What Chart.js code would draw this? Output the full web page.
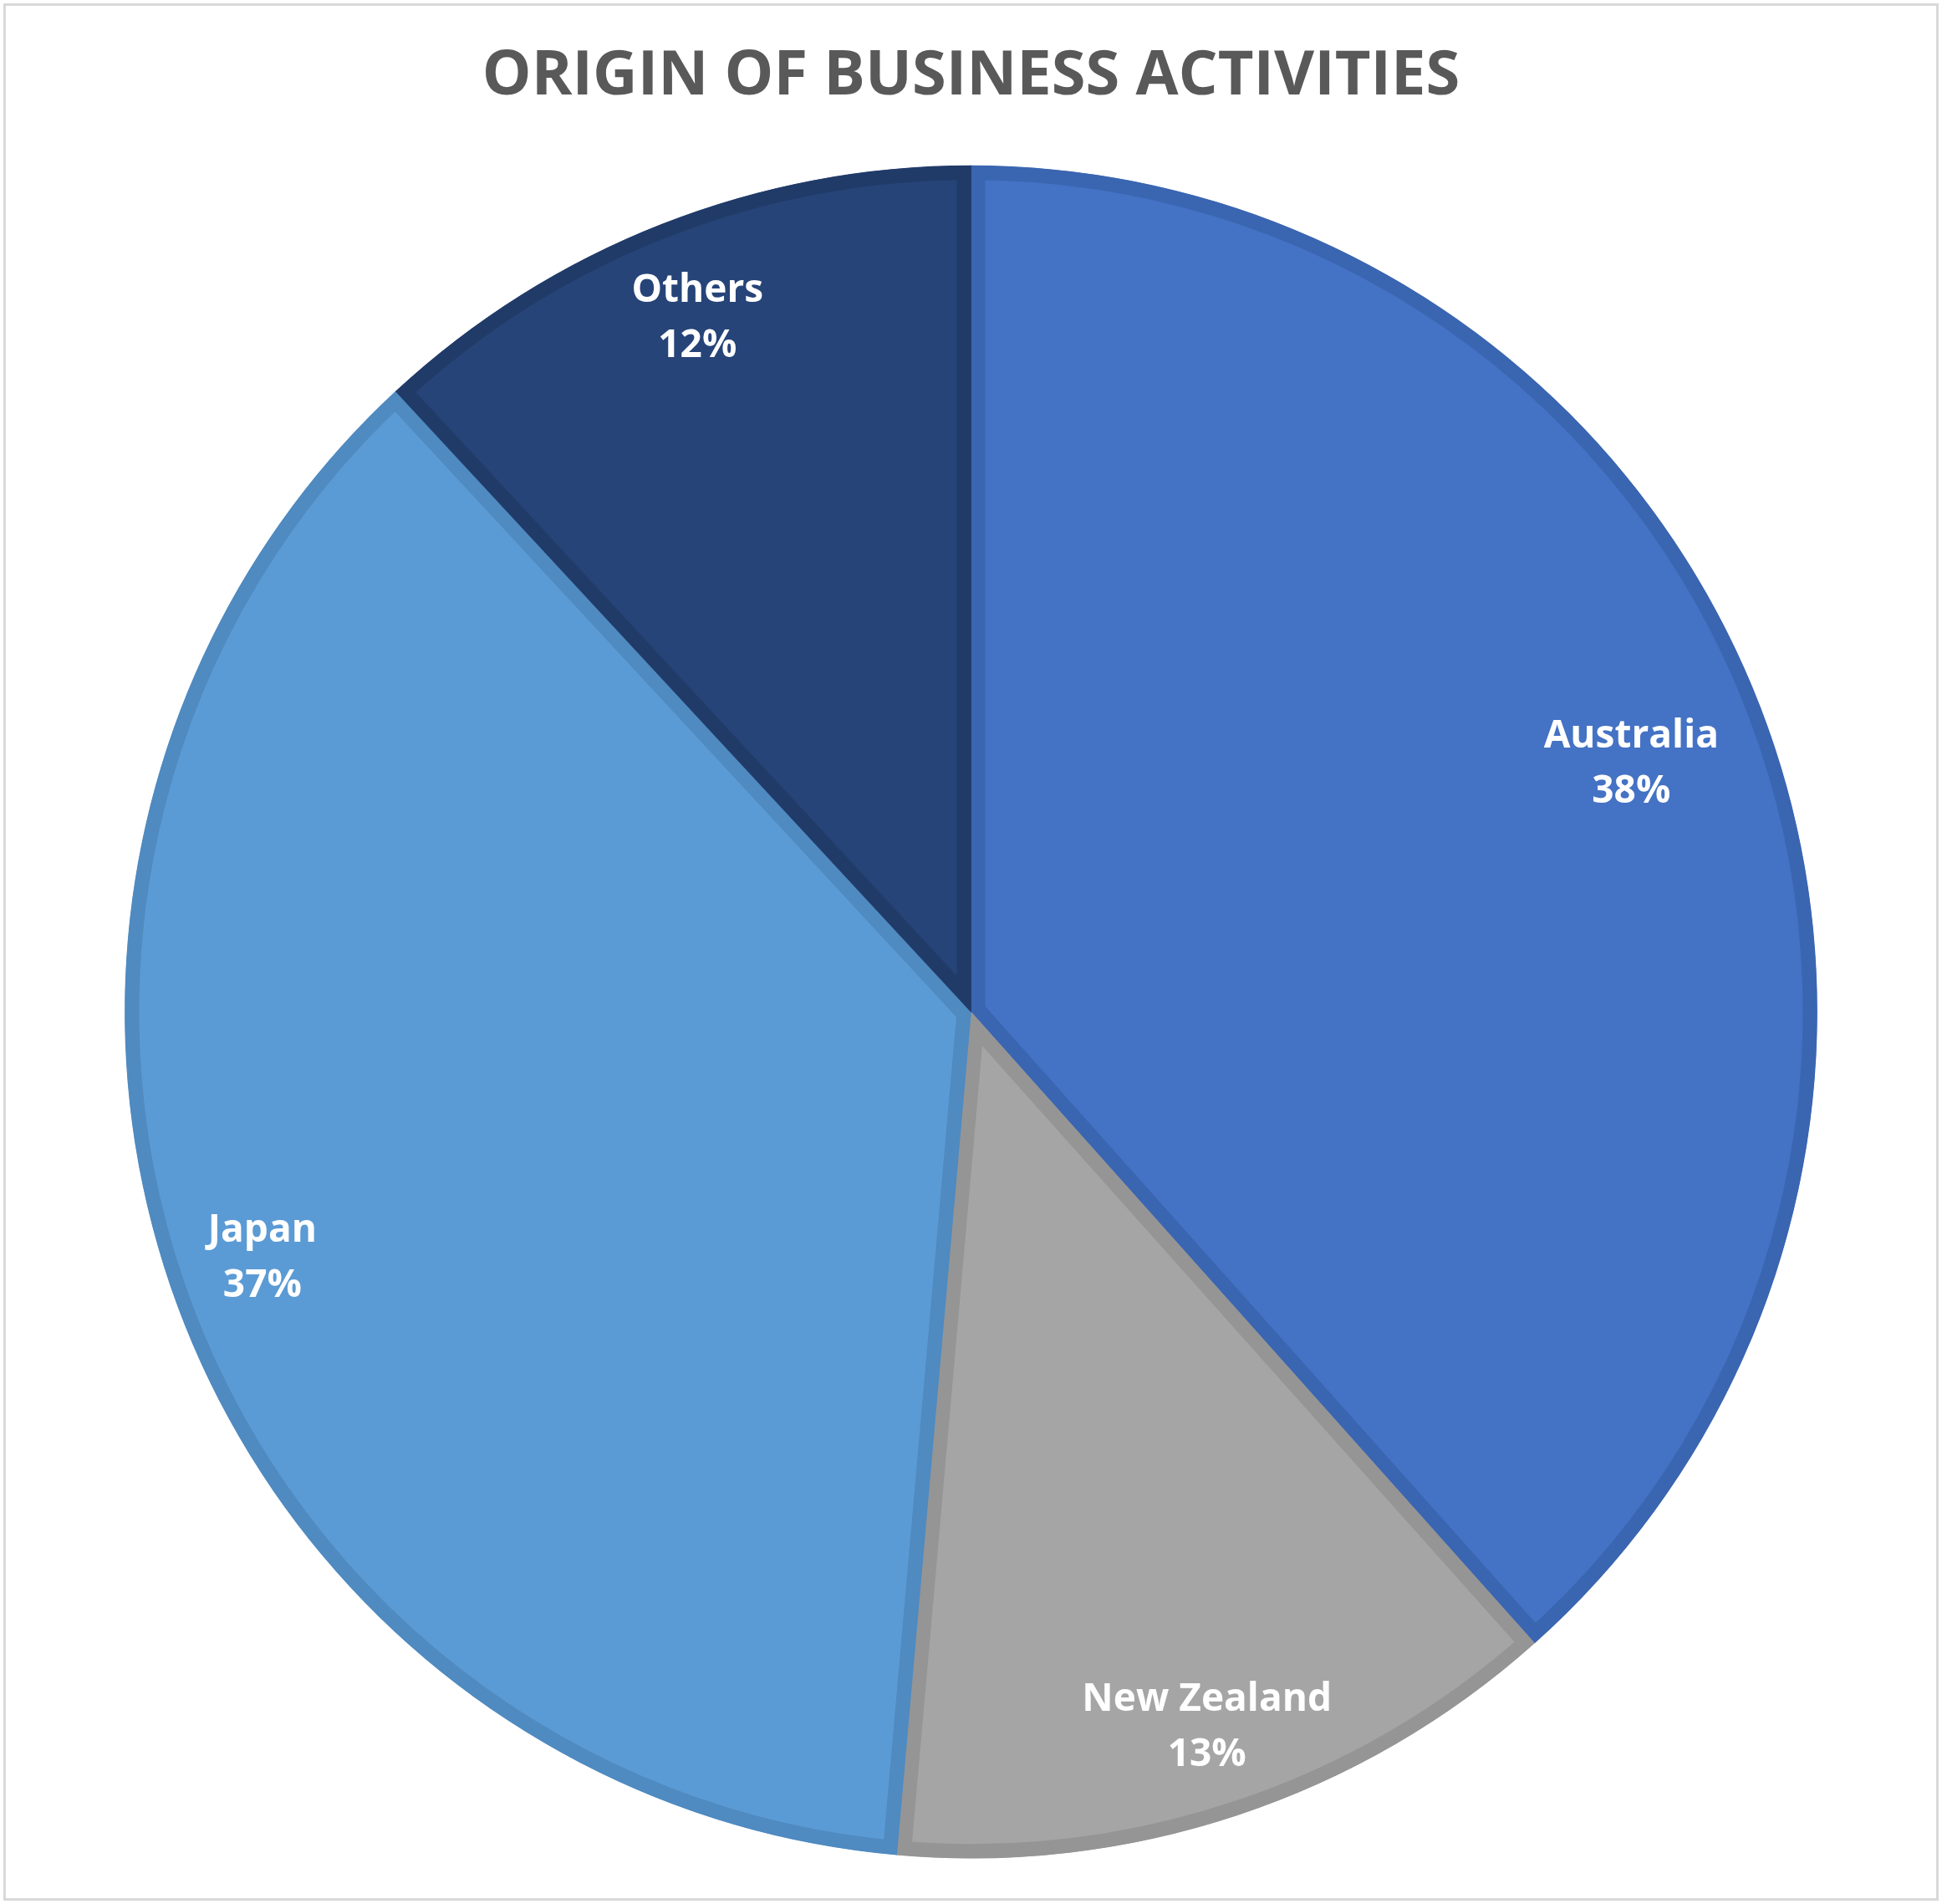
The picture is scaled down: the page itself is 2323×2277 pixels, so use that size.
<!DOCTYPE html>
<html>
<head>
<meta charset="utf-8">
<script src="https://cdn.jsdelivr.net/npm/chart.js@4.4.0/dist/chart.umd.min.js"></script>
<style>
  html, body { margin: 0; padding: 0; background: #fff; }
  #wrap { width: 2323px; height: 2277px; position: relative; }
</style>
</head>
<body>
<div id="wrap"><canvas id="originChart"></canvas></div>
<script>
// Chart data
const categories = ['Australia', 'New Zealand', 'Japan', 'Others'];
const shares = [38.4, 13.0, 36.7, 11.9];
const fillColors = ['#4472C4', '#A5A5A5', '#5B9BD5', '#264478'];
const edgeColors = ['#3A65B1', '#959595', '#4F8AC0', '#213B69'];

// Draws the light grey frame round the whole chart
const framePlugin = {
    id: 'frame',
    beforeDraw(chart) {
        const ctx = chart.ctx;
        ctx.save();
        ctx.fillStyle = '#fff';
        ctx.fillRect(0, 0, chart.width, chart.height);
        ctx.strokeStyle = '#D9D9D9';
        ctx.lineWidth = 3;
        ctx.strokeRect(5.5, 5.5, chart.width - 11, chart.height - 11);
        ctx.restore();
    }
};

// Category name + percent inside each slice
const sliceLabels = {
    id: 'sliceLabels',
    afterDatasetsDraw(chart, args, opts) {
        const ctx = chart.ctx;
        const meta = chart.getDatasetMeta(0);
        const values = chart.data.datasets[0].data;
        const total = values.reduce((a, b) => a + b, 0);
        const radii = opts.radius || [];
        const shift = opts.shift || 0;
        ctx.save();
        ctx.fillStyle = '#FFFFFF';
        ctx.font = 'bold 46px "Open Sans", sans-serif';
        ctx.textAlign = 'center';
        ctx.textBaseline = 'middle';
        meta.data.forEach((arc, i) => {
            const p = arc.getProps(['x', 'y', 'startAngle', 'endAngle', 'outerRadius'], true);
            const mid = (p.startAngle + p.endAngle) / 2;
            const r = p.outerRadius * (radii[i] || 0.88);
            const cx = p.x + Math.cos(mid) * r;
            const cy = p.y + Math.sin(mid) * r + shift;
            const pct = Math.round(values[i] / total * 100) + '%';
            ctx.fillText(chart.data.labels[i], cx, cy - 33);
            ctx.fillText(pct, cx, cy + 33);
        });
        ctx.restore();
    }
};

const ctx = document.getElementById('originChart');
new Chart(ctx, {
    type: 'pie',
    data: {
        labels: categories,
        datasets: [{
            data: shares,
            backgroundColor: fillColors,
            borderColor: edgeColors,
            borderWidth: 17,
            borderAlign: 'inner',
            borderJoinStyle: 'miter'
        }]
    },
    options: {
        responsive: true,
        maintainAspectRatio: false,
        animation: false,
        layout: {
            padding: { top: 20, bottom: 54.5, left: 0, right: 0 }
        },
        plugins: {
            legend: { display: false },
            tooltip: { enabled: false },
            title: {
                display: true,
                text: 'ORIGIN OF BUSINESS ACTIVITIES',
                color: '#595959',
                font: { family: '"Open Sans", sans-serif', size: 74, weight: 'bold', lineHeight: 1.2 },
                padding: { top: 28, bottom: 61 }
            },
            sliceLabels: {
                radius: [0.835, 0.885, 0.885, 0.885],
                shift: 5
            }
        }
    },
    plugins: [framePlugin, sliceLabels]
});
</script>
</body>
</html>
